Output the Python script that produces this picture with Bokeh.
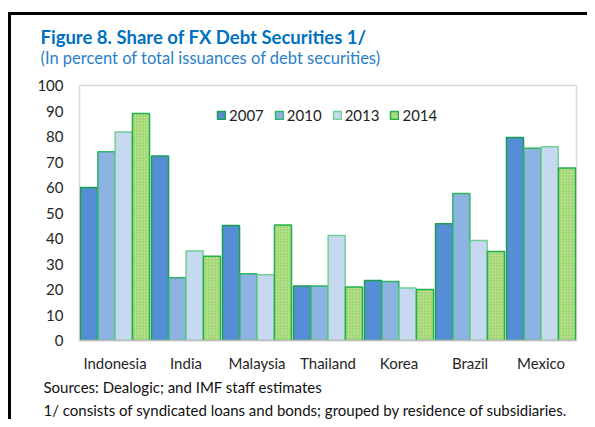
from bokeh.plotting import figure
from bokeh.models import (ColumnDataSource, FactorRange, Range1d, Legend, LegendItem,
                          FixedTicker, Title, InlineStyleSheet)
from bokeh.transform import dodge
from bokeh.embed import file_html
from bokeh.resources import INLINE

countries = ["Indonesia", "India", "Malaysia", "Thailand", "Korea", "Brazil", "Mexico"]
years = ["2007", "2010", "2013", "2014"]
v2007 = [60.0, 72.4, 45.1, 21.4, 23.5, 45.8, 79.6]
v2010 = [74.0, 24.6, 26.2, 21.4, 23.1, 57.6, 75.4]
v2013 = [81.8, 35.1, 25.8, 41.2, 20.6, 39.2, 76.0]
v2014 = [89.0, 33.0, 45.3, 21.0, 20.0, 34.9, 67.6]
y_ticks = [0, 10, 20, 30, 40, 50, 60, 70, 80, 90, 100]

title_text = "Figure 8. Share of FX Debt Securities 1/"
subtitle_text = "(In percent of total issuances of debt securities)"
note1 = "Sources: Dealogic; and IMF staff estimates"
note2 = "1/ consists of syndicated loans and bonds; grouped by residence of subsidiaries."

FONT = "Lato"
W, H = 587, 419
FL, FB = 79, 342  # frame left / bottom in canvas pixels

src = ColumnDataSource(dict(country=countries, v2007=v2007, v2010=v2010,
                            v2013=v2013, v2014=v2014))

p = figure(width=W, height=H, x_range=FactorRange(*countries, range_padding=0),
           y_range=Range1d(0, 100), output_backend="svg", toolbar_location=None,
           min_border_left=FL, min_border_right=11, min_border_top=85, min_border_bottom=H - FB)
p.grid.visible = False
p.outline_line_color = "#d9d9d9"
p.outline_line_width = 1.5
p.background_fill_color = "white"
p.border_fill_color = "white"

styles = [
    ("v2007", -0.366, "#558ED5", "#1a9e50", None),
    ("v2010", -0.122, "#8DB3E2", "#2db464", None),
    ("v2013", 0.122, "#C6D9F1", "#6fd093", None),
    ("v2014", 0.366, "#b3df88", "#22b04e", "."),
]
renderers = []
for col, off, fill, line, hatch in styles:
    kw = {}
    if hatch:
        kw = dict(hatch_pattern=hatch, hatch_color="#86c652", hatch_scale=3, hatch_weight=1)
    r = p.vbar(x=dodge("country", off, range=p.x_range), top=col, width=0.24, source=src,
               fill_color=fill, line_color=line, line_width=1.5, **kw)
    renderers.append(r)

legend = Legend(items=[LegendItem(label=y, renderers=[r]) for y, r in zip(years, renderers)],
                orientation="horizontal", location=(137, 216),
                glyph_width=10, glyph_height=10, label_standoff=3, spacing=10,
                label_text_font=FONT, label_text_font_size="15px", label_text_color="#222222",
                background_fill_alpha=0, border_line_alpha=0, padding=0, margin=0)
p.add_layout(legend, "center")

for ax in (p.yaxis, p.xaxis):
    ax.major_tick_line_color = None
    ax.minor_tick_line_color = None
    ax.major_tick_out = 0
    ax.major_tick_in = 0
    ax.minor_tick_out = 0
    ax.major_label_text_font = FONT
    ax.major_label_text_font_size = "15px"
    ax.major_label_text_color = "#262626"

p.yaxis.ticker = FixedTicker(ticks=y_ticks)
p.yaxis.axis_line_color = None
p.yaxis.major_label_standoff = 16

p.xaxis.axis_line_color = "#bfbfbf"
p.xaxis.axis_line_width = 1.5
p.xaxis.major_label_standoff = 13

# titles above (first added is nearest the frame); a blank spacer keeps the gap
p.add_layout(Title(text=" ", standoff=13, text_font=FONT, text_font_size="1px"), "above")
p.add_layout(Title(text=subtitle_text, align="left", offset=40 - FL, standoff=0,
                   vertical_align="top",
                   text_font=FONT, text_font_size="16.5px", text_font_style="normal",
                   text_color="#2a7fc9"), "above")
p.add_layout(Title(text=title_text, align="left", offset=40 - FL, standoff=0,
                   vertical_align="bottom",
                   text_font=FONT, text_font_size="18.5px", text_font_style="bold",
                   text_color="#0070C0"), "above")
# footnotes below the x axis
p.add_layout(Title(text=note1, align="left", offset=43 - FL, standoff=3,
                   text_font=FONT, text_font_size="15px", text_font_style="normal",
                   text_color="#111111"), "below")
p.add_layout(Title(text=note2, align="left", offset=43 - FL, standoff=2,
                   text_font=FONT, text_font_size="15px", text_font_style="normal",
                   text_color="#111111"), "below")

# black frame lines of the exhibit box (decoration)
p.stylesheets = [InlineStyleSheet(css=(
    ":host { position: relative; }"
    ":host::after { content: ''; position: absolute; left: 8px; top: 12px; right: 0px;"
    " bottom: 0px; border-top: 3px solid black; border-left: 3px solid black;"
    " pointer-events: none; z-index: 10; }"))]

open("out.html", "w").write(file_html(p, INLINE))
